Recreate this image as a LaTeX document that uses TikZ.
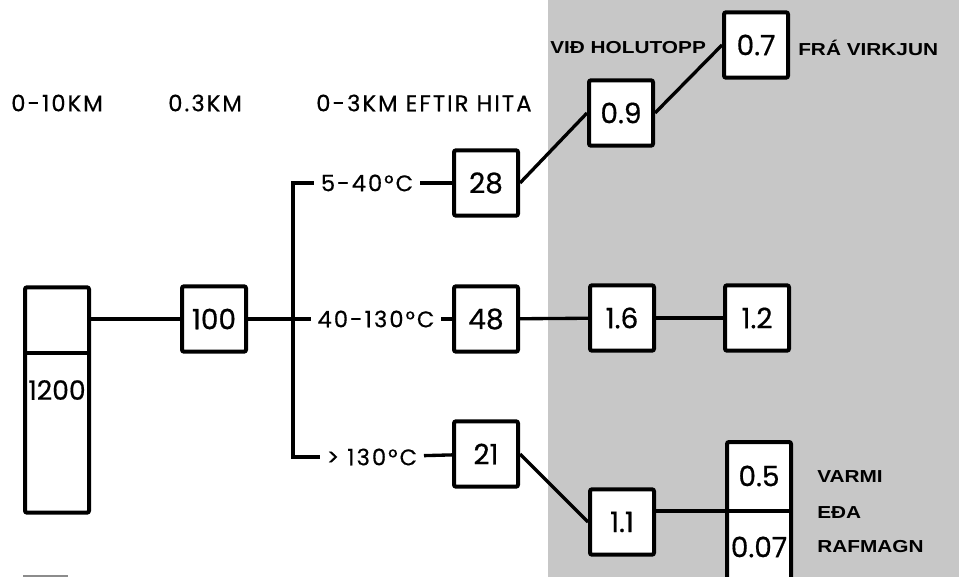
\documentclass[tikz,border=0pt]{standalone}
\usepackage{fontspec}
\setmainfont{Poppins}[FakeBold=0.6]
\newfontfamily\lblfont{Poppins}[FakeBold=0.5,LetterSpace=9]
\newfontfamily\tagfont{Liberation Sans}[FakeStretch=1.2]

\begin{document}
\begin{tikzpicture}[x=0.75pt,y=-0.75pt,
  box/.style={draw,line width=3pt,rounded corners=1.5pt,fill=white,minimum width=48pt,minimum height=49pt,inner sep=0pt,font=\fontsize{21}{23}\selectfont},
  lbl/.style={inner xsep=5pt,inner ysep=2pt,font=\lblfont\fontsize{17}{19}\selectfont},
  tag/.style={anchor=west,inner sep=0pt,font=\tagfont\fontsize{13}{15}\selectfont\bfseries},
  wire/.style={line width=2.5pt}]
\useasboundingbox (0,0) rectangle (959,577);
\clip (0,0) rectangle (959,577);
\fill[black!22] (548,0) rectangle (959,577);

% headings
\node[lbl,anchor=west,inner xsep=0pt] (h1) at (11,103) {0-10KM};
\node[lbl,anchor=west,inner xsep=0pt] (h2) at (168,103) {0.3KM};
\node[lbl,anchor=west,inner xsep=0pt] (h3) at (316,103) {0-3KM EFTIR HITA};
\node[tag] (h4) at (550,48) {VIÐ HOLUTOPP};
\node[tag] (h5) at (798,48) {FRÁ VIRKJUN};

% left column
\node[box,minimum height=169pt] (crust) at (57,400) {};
\coordinate (crustmid) at (57,319);
\draw[line width=3pt] (crust.west |- 0,353) -- (crust.east |- 0,353);
\node[font=\fontsize{20}{22}\selectfont,inner sep=0pt] (v1200) at (57,390) {1200};
\node[box] (n100) at (214,319) {100};

% temperature split
\coordinate (ttop) at (293,183);
\coordinate (tbot) at (293,457);
\node[lbl] (l540) at (367,183) {5-40°C};
\node[lbl] (l40130) at (376,319) {40-130°C};
\node[lbl] (l130) at (372,457) {> 130°C};
\node[box] (n28) at (486,183) {28};
\node[box] (n48) at (486,319) {48};
\node[box] (n21) at (486,454) {21};

% grey side
\node[box] (n09) at (621,113) {0.9};
\node[box] (n07) at (756,45) {0.7};
\node[box] (n16) at (622,318) {1.6};
\node[box] (n12) at (757,318) {1.2};
\node[box] (n11) at (622,522) {1.1};
\node[box,minimum height=111pt] (split) at (759,516) {};
\draw[line width=3pt] (split.west |- 0,511) -- (split.east |- 0,511);
\node[font=\fontsize{21}{23}\selectfont,inner sep=0pt] (v05) at (759,476) {0.5};
\node[font=\fontsize{21}{23}\selectfont,inner sep=0pt] (v007) at (759,547) {0.07};
\node[tag] (t1) at (817,477) {VARMI};
\node[tag] (t2) at (817,513) {EÐA};
\node[tag] (t3) at (817,547) {RAFMAGN};

\draw[wire] (crust.east |- crustmid) -- (n100);
\draw[wire] (n100) -- (l40130);
\draw[wire] (l540.west) -- (ttop) -- (tbot) -- (l130.west);
\draw[wire] (l540) -- (n28);
\draw[wire] (l40130) -- (n48);
\draw[wire] (l130) -- (n21);
\draw[wire] (n28.east) -- (n09.west);
\draw[wire] (n09.east) -- (n07.west);
\draw[wire] (n48) -- (n16);
\draw[wire] (n16) -- (n12);
\draw[wire] (n21.east) -- (n11.west);
\draw[wire] (n11.east |- 0,511) -- (split.west |- 0,511);
\draw[black!45,line width=1pt] (23,576) -- (68,576);
\end{tikzpicture}
\end{document}
